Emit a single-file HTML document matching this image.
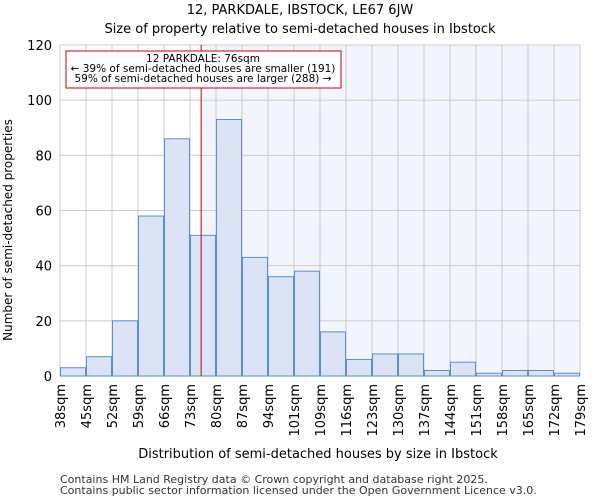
<!DOCTYPE html>
<html><head><meta charset="utf-8"><style>
body{margin:0;background:#fff;font-family:"DejaVu Sans","Liberation Sans",sans-serif}
</style></head><body>
<svg id="c" width="600" height="500" xmlns="http://www.w3.org/2000/svg" font-family="DejaVu Sans, Liberation Sans, sans-serif">
<text x="300" y="14" text-anchor="middle" font-size="13">12, PARKDALE, IBSTOCK, LE67 6JW</text>
<text x="300" y="33" text-anchor="middle" font-size="13">Size of property relative to semi-detached houses in Ibstock</text>
<g id="plot"></g>
<text x="318" y="458" text-anchor="middle" font-size="13">Distribution of semi-detached houses by size in Ibstock</text>
<text transform="translate(12,230) rotate(-90)" text-anchor="middle" font-size="12">Number of semi-detached properties</text>
<text x="60" y="483" font-size="11" fill="#333">Contains HM Land Registry data © Crown copyright and database right 2025.</text>
<text x="60" y="494" font-size="11" fill="#333">Contains public sector information licensed under the Open Government Licence v3.0.</text>
</svg>
<script>
const binLabels=["38sqm","45sqm","52sqm","59sqm","66sqm","73sqm","80sqm","87sqm","94sqm","101sqm","109sqm","116sqm","123sqm","130sqm","137sqm","144sqm","151sqm","158sqm","165sqm","172sqm","179sqm"];
const counts=[3,7,20,58,86,51,93,43,36,38,16,6,8,8,2,5,1,2,2,1];
const yTicks=[0,20,40,60,80,100,120];
const propertyBinPos=5+3/7; // 76sqm within 73-80 bin
const NS="http://www.w3.org/2000/svg";
const X0=60,X1=580,Y0=376,Y1=45,yMax=120;
const bw=(X1-X0)/counts.length;
const xs=i=>X0+i*bw;
const ys=v=>Y0-(v/yMax)*(Y0-Y1);
const g=document.getElementById('plot');
function mk(t,a){const e=document.createElementNS(NS,t);for(const k in a)e.setAttribute(k,a[k]);g.appendChild(e);return e;}
const lx=xs(propertyBinPos);
let e=mk('rect',{x:lx,y:Y1,width:X1-lx,height:Y0-Y1,fill:'#f2f5fd'});


yTicks.forEach(t=>{
 let l=mk('line',{x1:X0,x2:X1,y1:ys(t),y2:ys(t),stroke:'#cccccc'});
 
 
 let tx=mk('text',{x:X0-8,y:ys(t)+5,'text-anchor':'end','font-size':13});
 tx.textContent=t;
 
 
});
binLabels.forEach((s,i)=>{
 let l=mk('line',{x1:xs(i),x2:xs(i),y1:Y1,y2:Y0,stroke:'#cccccc'});
 
 
 let tx=mk('text',{transform:`translate(${xs(i)+5},${Y0+8}) rotate(-90)`,'text-anchor':'end','font-size':13});
 tx.textContent=s;
 
 
});
counts.forEach((v,i)=>{
 let r=mk('rect',{x:xs(i)+0.5,y:ys(v),width:bw-1,height:Y0-ys(v),fill:'#dbe4f5',stroke:'#5a8ed6','stroke-width':1});
 
 
});
e=mk('line',{x1:lx,x2:lx,y1:Y1,y2:Y0,stroke:'#cc0000','stroke-width':1});


e=mk('rect',{x:66,y:51,width:275,height:37,fill:'#fff',stroke:'#cc0000'});


[["12 PARKDALE: 76sqm",62],["← 39% of semi-detached houses are smaller (191)",72],["59% of semi-detached houses are larger (288) →",82]].forEach(([s,y])=>{
 let t=mk('text',{x:203,y:y,'text-anchor':'middle','font-size':10.5});
 t.textContent=s;
 
 
});
</script>
</body></html>
